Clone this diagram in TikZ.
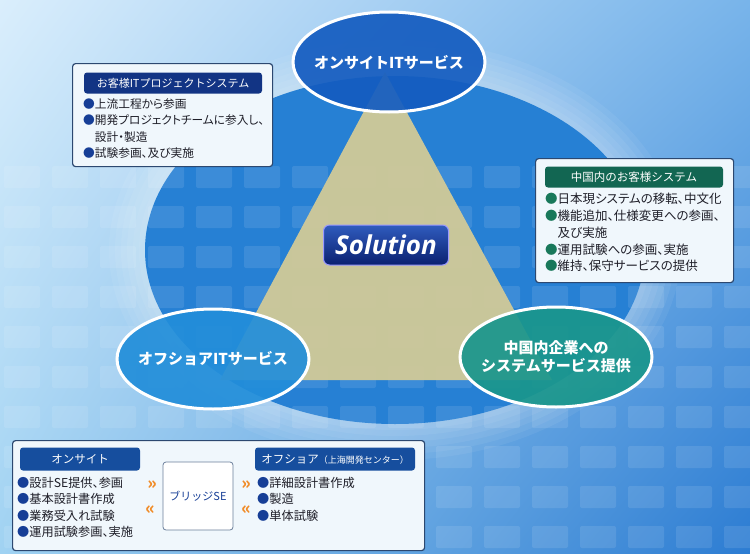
\documentclass[tikz,border=0pt]{standalone}
\usepackage{fontspec}
\setmainfont{Noto Sans CJK JP}[RawFeature=+palt]
\newfontfamily\hdfont{Noto Sans CJK JP}
\newfontfamily\solfont{Open Sans}
\usetikzlibrary{shapes.geometric,shadings}

\definecolor{bgtl}{RGB}{218,238,252}
\definecolor{bgtr}{RGB}{120,180,234}
\definecolor{bgbl}{RGB}{160,210,242}
\definecolor{bgbr}{RGB}{44,124,210}
\definecolor{discblue}{RGB}{38,128,212}
\definecolor{onsiteblue}{RGB}{20,92,192}
\definecolor{offblue}{RGB}{34,142,218}
\definecolor{tealsvc}{RGB}{26,150,140}
\definecolor{tri}{RGB}{214,204,150}
\definecolor{navy}{RGB}{18,52,132}
\definecolor{hdrblue}{RGB}{22,78,158}
\definecolor{hdrgreen}{RGB}{18,102,82}
\definecolor{boxline}{RGB}{44,72,112}
\definecolor{boxfill}{RGB}{240,247,252}
\definecolor{txt}{RGB}{30,30,40}
\definecolor{bulblue}{RGB}{22,62,150}
\definecolor{bulgreen}{RGB}{24,120,90}
\definecolor{chev}{RGB}{240,140,40}

\newcommand{\dotb}{\textcolor{bulblue}{●}}
\newcommand{\dotg}{\textcolor{bulgreen}{●}}

\begin{document}
\begin{tikzpicture}[x=1pt,y=-1pt,
	svc/.style={ellipse,draw=white,line width=3pt,fill opacity=0.92,minimum width=192pt,minimum height=100pt},
	svctext/.style={text=white,font=\hdfont\fontsize{15}{18}\selectfont\bfseries,align=center},
	infobox/.style={draw=boxline,line width=1.2pt,fill=boxfill,rounded corners=3pt,anchor=north west},
	head/.style={rounded corners=3pt,text=white,font=\hdfont\fontsize{11.5}{13}\selectfont,minimum height=21pt,inner sep=0pt},
	items/.style={anchor=north west,align=left,text=txt,inner sep=0pt,font=\fontsize{11.7}{16.5}\selectfont},
	chevron/.style={text=chev,font=\fontsize{17}{17}\selectfont\bfseries,inner sep=0pt}]
	\useasboundingbox (0,0) rectangle (750,554);
	\clip (0,0) rectangle (750,554);
	% background
	\shade[upper left=bgtl,upper right=bgtr,lower left=bgbl,lower right=bgbr] (0,0) rectangle (750,554);
	\foreach \r in {1,...,6}
		\fill[white,opacity=0.06] (395,250) ellipse ({250+6*\r} and {174+6*\r});
	\fill[discblue] (395,250) ellipse (250 and 174);
	% tiles
	\foreach \i in {0,...,15}{
		\foreach \j in {4,...,13}{
			\fill[white,opacity=0.1,rounded corners=2pt] ({\i*48+4},{\j*40+6}) rectangle +(36,22);
		}
	}
	% triangle
	\fill[tri,opacity=0.92] (385,72) -- (552,380) -- (220,380) -- cycle;
	% services
	\node[svc,fill=onsiteblue] (onsite) at (389,62) {};
	\node[svc,fill=offblue] (offshore) at (213,359) {};
	\node[svc,fill=tealsvc] (domestic) at (556,357) {};
	\node[svctext] (onsitetext) at (onsite.center) {オンサイトITサービス};
	\node[svctext] (offshoretext) at (offshore.center) {オフショアITサービス};
	\node[svctext] (domestictext) at (domestic.center) {中国内企業への\\システムサービス提供};
	\node[rounded corners=6pt,draw=white!60!blue,line width=1pt,top color={rgb,255:red,48;green,92;blue,190},
		bottom color={rgb,255:red,10;green,32;blue,112},minimum width=125pt,minimum height=40pt,text=white,
		font=\solfont\fontsize{26}{28}\selectfont\bfseries\itshape] (solution) at (386,245) {Solution};
	% お客様ITプロジェクトシステム
	\node[infobox,minimum width=200pt,minimum height=103pt] (custbox) at (72,63) {};
	\node[head,fill=navy,minimum width=178pt,font=\hdfont\fontsize{11}{12}\selectfont] (custhead) at (173,83) {お客様ITプロジェクトシステム};
	\node[items] (custlist) at (83,98) {\dotb 上流工程から参画\\\dotb 開発プロジェクトチームに参入し、\\\phantom{●}設計・製造\\\dotb 試験参画、及び実施};
	% 中国内のお客様システム
	\node[infobox,minimum width=198pt,minimum height=124pt] (chinabox) at (535,158) {};
	\node[head,fill=hdrgreen,minimum width=178pt] (chinahead) at (634,177) {中国内のお客様システム};
	\node[items,font=\fontsize{12.5}{16.8}\selectfont] (chinalist) at (545,193) {\dotg 日本現システムの移転、中文化\\\dotg 機能追加、仕様変更への参画、\\\phantom{●}及び実施\\\dotg 運用試験への参画、実施\\\dotg 維持、保守サービスの提供};
	% bottom
	\node[infobox,minimum width=412pt,minimum height=110pt] (teambox) at (12,440) {};
	\node[head,fill=hdrblue,minimum width=120pt,minimum height=23pt] (onsitehead) at (80,459) {オンサイト};
	\node[head,fill=hdrblue,minimum width=160pt,minimum height=23pt] (offhead) at (335,459) {オフショア{\fontsize{9}{11}\selectfont（上海開発センター）}};
	\node[draw=boxline!70,line width=0.8pt,fill=white,rounded corners=3pt,minimum width=70pt,minimum height=68pt,
		text=bulblue,font=\hdfont\fontsize{11}{12}\selectfont] (bridge) at (198,496) {ブリッジSE};
	\node[items,font=\fontsize{12.2}{16.5}\selectfont] (onsitelist) at (17,477) {\dotb 設計SE提供、参画\\\dotb 基本設計書作成\\\dotb 業務受入れ試験\\\dotb 運用試験参画、実施};
	\node[items,font=\fontsize{12.2}{16.5}\selectfont] (offlist) at (257,477) {\dotb 詳細設計書作成\\\dotb 製造\\\dotb 単体試験};
	\node[chevron] (chevA) at (152,485) {»};
	\node[chevron] (chevB) at (150,510) {«};
	\node[chevron] (chevC) at (246,485) {»};
	\node[chevron] (chevD) at (246,510) {«};
\end{tikzpicture}
\end{document}
